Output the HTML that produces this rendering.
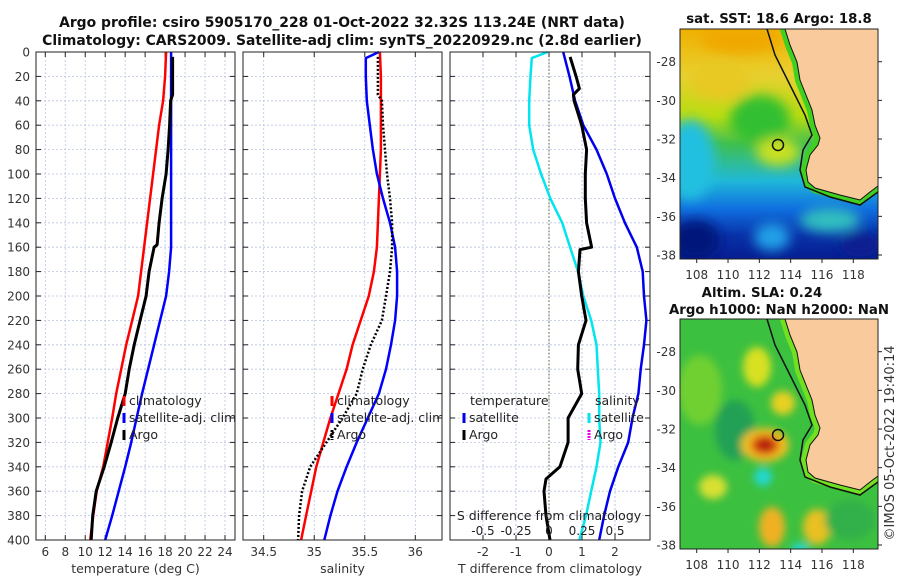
<!DOCTYPE html>
<html><head><meta charset="utf-8"><style>
html,body{margin:0;padding:0;background:#fff;}
svg{display:block;font-family:"DejaVu Sans","Liberation Sans",sans-serif;}
</style></head><body>
<svg id="fig" width="900" height="580" viewBox="0 0 900 580" xmlns="http://www.w3.org/2000/svg">
<defs>
<filter id="blur6"><feGaussianBlur stdDeviation="6"/></filter>
<filter id="blur4"><feGaussianBlur stdDeviation="4"/></filter>
<clipPath id="clipMap1"><rect x="680" y="29" width="198" height="230"/></clipPath>
<clipPath id="clipMap2"><rect x="680" y="319" width="198" height="230"/></clipPath>
<linearGradient id="sstGrad" x1="0" y1="0" x2="0" y2="1">
<stop offset="0" stop-color="#f0b000"/><stop offset="0.2" stop-color="#e8d030"/>
<stop offset="0.38" stop-color="#b8dc10"/><stop offset="0.5" stop-color="#40c050"/>
<stop offset="0.66" stop-color="#20b8d8"/><stop offset="0.78" stop-color="#1070e0"/>
<stop offset="0.9" stop-color="#0830a8"/><stop offset="1" stop-color="#061e90"/>
</linearGradient>
</defs>
<g font-weight="bold" font-size="13.9" text-anchor="middle" fill="#111">
<text x="342" y="27">Argo profile: csiro 5905170_228 01-Oct-2022 32.32S 113.24E (NRT data)</text>
<text x="342" y="45">Climatology: CARS2009. Satellite-adj clim: synTS_20220929.nc (2.8d earlier)</text>
</g>
<g id="plots"></g>
<g id="maps"></g>
</svg>
<script>
// ---------- data ----------
const depthGrid = [0,20,40,60,80,100,120,140,160,180,200,220,240,260,280,300,320,340,360,380,400];
const tempClim = [18.1,18.0,17.8,17.4,17.1,16.8,16.5,16.2,15.9,15.6,15.3,14.7,14.1,13.6,13.1,12.7,12.25,11.8,11.15,10.8,10.5];
const tempSat  = [18.6,18.6,18.6,18.6,18.6,18.6,18.6,18.6,18.6,18.4,18.1,17.5,16.9,16.3,15.7,15.15,14.6,14.0,13.35,12.7,12.0];
const argoDepth = [4,20,35,40,60,80,100,120,140,158,160,180,200,220,240,260,280,300,320,340,360,380,400];
const tempArgo = [18.75,18.75,18.75,18.55,18.45,18.3,18.1,17.7,17.4,17.2,16.9,16.4,16.1,15.5,14.9,14.4,14.0,13.25,12.6,11.9,11.1,10.75,10.6];
const salClim = [35.65,35.66,35.66,35.66,35.66,35.65,35.64,35.63,35.62,35.59,35.54,35.46,35.38,35.32,35.24,35.16,35.09,35.02,34.97,34.92,34.87];
const salSatDepth = [0,5,20,40,60,80,100,120,140,160,180,200,220,240,260,280,300,320,340,360,380,400];
const salSat = [35.64,35.51,35.51,35.52,35.55,35.58,35.62,35.68,35.75,35.80,35.82,35.82,35.80,35.76,35.71,35.64,35.53,35.42,35.32,35.23,35.16,35.10];
const salArgoDepth = [4,35,40,60,80,100,120,140,160,180,200,220,240,260,280,300,320,340,360,380,400];
const salArgo = [35.63,35.63,35.67,35.68,35.70,35.72,35.75,35.77,35.77,35.75,35.71,35.67,35.56,35.48,35.42,35.28,35.12,34.96,34.88,34.85,34.84];
const tDiffSat = [0.43,0.62,0.79,1.04,1.44,1.75,2.0,2.3,2.66,2.84,2.88,2.95,2.88,2.78,2.71,2.53,2.4,2.1,1.85,1.67,1.52];
const tDiffArgoDepth = [4,20,30,35,40,60,80,100,120,140,160,162,180,200,220,240,260,280,300,320,340,350,360,380,400];
const tDiffArgo = [0.64,0.82,0.92,0.74,0.76,0.99,1.14,1.1,1.1,1.14,1.29,0.94,0.89,0.99,1.12,0.89,0.87,0.99,0.58,0.58,0.33,-0.09,-0.15,-0.09,0.03];
const sDiffDepth = [0,5,20,40,60,80,100,120,140,160,180,200,220,240,260,280,300,320,340,360,380,400];
const sDiffSat = [-0.01,-0.13,-0.14,-0.15,-0.15,-0.12,-0.06,0.01,0.10,0.16,0.22,0.26,0.32,0.36,0.37,0.38,0.38,0.39,0.36,0.32,0.28,0.23];
const depthTicks = [0,20,40,60,80,100,120,140,160,180,200,220,240,260,280,300,320,340,360,380,400];
const tempTicks = [6,8,10,12,14,16,18,20,22,24];
const salTicks = [34.5,35,35.5,36];
const tDiffTicks = [-2,-1,0,1,2];
const sDiffTicks = [-0.5,-0.25,0,0.25,0.5];
const sDiffTickLabels = ["-0.5","-0.25","0","0.25","0.5"];
const lonTicks = [108,110,112,114,116,118];
const latTicks = [-28,-30,-32,-34,-36,-38];

// ---------- helpers ----------
const NS = "http://www.w3.org/2000/svg";
function mk(tag, attrs, parent){
  const e = document.createElementNS(NS, tag);
  for (const k in attrs) e.setAttribute(k, attrs[k]);
  parent.appendChild(e); return e;
}
const PT = 52, PB = 540;
const yD = d => PT + d * (PB - PT) / 400;
function lin(d0, d1, r0, r1){ return v => r0 + (v - d0) * (r1 - r0) / (d1 - d0); }
const panels = [
  {x0:36, x1:235, sx: lin(6,24,45.3,225), ticks: tempTicks, labels: tempTicks.map(String), xlabel:"temperature (deg C)", name:"temperature"},
  {x0:243, x1:442, sx: lin(34.5,36,263.7,415.3), ticks: salTicks, labels: salTicks.map(String), xlabel:"salinity", name:"salinity"},
  {x0:450, x1:650, sx: lin(0,1,549,582), ticks: tDiffTicks, labels: tDiffTicks.map(String), xlabel:"T difference from climatology", name:"difference"}
];
const sxS = lin(0,1,549,681);
const plots = document.getElementById('plots');
const FS = 12;

function drawLine(g, xs, ds, sx, color, w, dash, name){
  let pts = xs.map((v,i)=> sx(v).toFixed(1)+","+yD(ds[i]).toFixed(1)).join(" ");
  const p = mk('polyline', {points:pts, fill:'none', stroke:color, 'stroke-width':w, 'stroke-linejoin':'round'}, g);
  if (dash) p.setAttribute('stroke-dasharray', dash);
  
  
}

panels.forEach((P, pi) => {
  const g = mk('g', {}, plots);
  
  
  mk('rect', {x:P.x0, y:PT, width:P.x1-P.x0, height:PB-PT, fill:'#fff'}, g);
  depthTicks.forEach(d => {
    const l = mk('line', {x1:P.x0, x2:P.x1, y1:yD(d), y2:yD(d), stroke:'#b9c3e3', 'stroke-width':0.8, 'stroke-dasharray':'2,2'}, g);
    
    
  });
  P.ticks.forEach(t => {
    const l = mk('line', {x1:P.sx(t), x2:P.sx(t), y1:PT, y2:PB, stroke:'#b9c3e3', 'stroke-width':0.8, 'stroke-dasharray':'2,2'}, g);
    
    
  });
  if (pi === 2) {
    sDiffTicks.forEach(t => {
      const l = mk('line', {x1:sxS(t), x2:sxS(t), y1:PT, y2:PB, stroke:'#b9c3e3', 'stroke-width':0.8, 'stroke-dasharray':'2,2'}, g);
      
      
    });
    const z = mk('line', {x1:549, x2:549, y1:PT, y2:PB, stroke:'#556b2f', 'stroke-width':1, 'stroke-dasharray':'1.5,2'}, g);
    
    
  }
  depthTicks.forEach(d => {
    mk('line', {x1:P.x0, x2:P.x0+5, y1:yD(d), y2:yD(d), stroke:'#222', 'stroke-width':1}, g);
    mk('line', {x1:P.x1-5, x2:P.x1, y1:yD(d), y2:yD(d), stroke:'#222', 'stroke-width':1}, g);
    if (pi === 0) {
      const t = mk('text', {x:30, y:yD(d)+4.5, 'text-anchor':'end', 'font-size':FS, fill:'#333'}, g);
      t.textContent = d;
      
      
    }
  });
  P.ticks.forEach((tv, i) => {
    mk('line', {x1:P.sx(tv), x2:P.sx(tv), y1:PB-5, y2:PB, stroke:'#222', 'stroke-width':1}, g);
    mk('line', {x1:P.sx(tv), x2:P.sx(tv), y1:PT, y2:PT+5, stroke:'#222', 'stroke-width':1}, g);
    const t = mk('text', {x:P.sx(tv), y:556, 'text-anchor':'middle', 'font-size':FS, fill:'#333'}, g);
    t.textContent = P.labels[i];
    
    
  });
  const xl = mk('text', {x:(P.x0+P.x1)/2, y:573, 'text-anchor':'middle', 'font-size':12.5, fill:'#333'}, g);
  xl.textContent = P.xlabel;
  
  
  P.g = g;
});

drawLine(panels[0].g, tempClim, depthGrid, panels[0].sx, '#ff0000', 2.5, null, 'temperature-climatology-line');
drawLine(panels[0].g, tempSat, depthGrid, panels[0].sx, '#0000ff', 2.5, null, 'temperature-satellite-line');
drawLine(panels[0].g, tempArgo, argoDepth, panels[0].sx, '#000000', 3, null, 'temperature-argo-line');
drawLine(panels[1].g, salClim, depthGrid, panels[1].sx, '#ff0000', 2.5, null, 'salinity-climatology-line');
drawLine(panels[1].g, salSat, salSatDepth, panels[1].sx, '#0000ff', 2.5, null, 'salinity-satellite-line');
drawLine(panels[1].g, salArgo, salArgoDepth, panels[1].sx, '#000000', 2.5, '2,2', 'salinity-argo-line');
drawLine(panels[2].g, sDiffSat, sDiffDepth, sxS, '#00e5ee', 2.5, null, 'salinity-diff-satellite-line');
drawLine(panels[2].g, tDiffSat, depthGrid, panels[2].sx, '#0000ee', 2.5, null, 'temperature-diff-satellite-line');
drawLine(panels[2].g, tDiffArgo, tDiffArgoDepth, panels[2].sx, '#000000', 3, null, 'temperature-diff-argo-line');

(function(){
  const g = panels[2].g;
  const t = mk('text', {x:549, y:520, 'text-anchor':'middle', 'font-size':FS+0.5, fill:'#222'}, g);
  t.textContent = 'S difference from climatology';
  
  
  sDiffTicks.forEach((v,i) => {
    const l = mk('text', {x:sxS(v), y:535, 'text-anchor':'middle', 'font-size':FS, fill:'#222'}, g);
    l.textContent = sDiffTickLabels[i];
    
    
  });
})();

function legendEntry(g, x, y, color, label, dash){
  const e = mk('g', {}, g);
  
  
  const m = mk('line', {x1:x, x2:x, y1:y-9, y2:y+1, stroke:color, 'stroke-width':3}, e);
  if (dash) m.setAttribute('stroke-dasharray', dash);
  const t = mk('text', {x:x+5, y:y, 'font-size':FS+0.5, fill:'#222'}, e);
  t.textContent = label;
}
(function(){
  const g0 = mk('g', {}, plots);
  
  
  legendEntry(g0, 124, 405, '#ff0000', 'climatology');
  legendEntry(g0, 124, 422, '#0000ff', 'satellite-adj. clim');
  legendEntry(g0, 124, 439, '#000', 'Argo');
  const cp = mk('clipPath', {id:'clipP2'}, plots); mk('rect', {x:243, y:52, width:199, height:488}, cp);
  const g1 = mk('g', {'clip-path':'url(#clipP2)'}, plots);
  
  
  legendEntry(g1, 332, 405, '#ff0000', 'climatology');
  legendEntry(g1, 332, 422, '#0000ff', 'satellite-adj. clim');
  legendEntry(g1, 332, 439, '#000', 'Argo', '2,1');
  const g2 = mk('g', {}, plots);
  
  
  const h1 = mk('text', {x:470, y:405, 'font-size':FS+0.5, fill:'#222'}, g2); h1.textContent = 'temperature';
  legendEntry(g2, 464, 422, '#0000ee', 'satellite');
  legendEntry(g2, 464, 439, '#000', 'Argo');
  const h2 = mk('text', {x:595, y:405, 'font-size':FS+0.5, fill:'#222'}, g2); h2.textContent = 'salinity';
  legendEntry(g2, 589, 422, '#00e5ee', 'satellite');
  legendEntry(g2, 589, 439, '#ee00ee', 'Argo', '2,1');
})();
panels.forEach(P => {
  const r = mk('rect', {x:P.x0, y:PT, width:P.x1-P.x0, height:PB-PT, fill:'none', stroke:'#222', 'stroke-width':1}, plots);
  
  
});

// ---------- maps ----------
const maps = document.getElementById('maps');
const coast = [[785,29],[790,45],[797,62],[800,80],[806,95],[812,110],[815,125],[820,138],[818,145],[810,155],[806,170],[808,182],[815,188],[840,195],[860,200],[870,192],[878,186],[878,29]];
const shelf = [[767,29],[775,55],[790,85],[805,115],[812,135],[803,150],[800,170],[805,187],[830,197],[860,205],[878,192]];
function shift(arr, dy){ return arr.map(p => p[0]+","+(p[1]+dy)).join(" "); }
function drawMap(dy, kind){
  const g = mk('g', {}, maps);
  
  
  const c = mk('g', {'clip-path': dy ? 'url(#clipMap2)' : 'url(#clipMap1)'}, g);
  if (kind === 'sst') {
    mk('rect', {x:680, y:29, width:198, height:230, fill:'url(#sstGrad)'}, c);
    const b = mk('g', {filter:'url(#blur6)'}, c);
    mk('ellipse', {cx:690, cy:160, rx:25, ry:40, fill:'#20c0e0'}, b);
    mk('ellipse', {cx:760, cy:120, rx:30, ry:25, fill:'#30c030'}, b);
    mk('ellipse', {cx:778, cy:152, rx:22, ry:14, fill:'#c8e020'}, b);
    mk('ellipse', {cx:720, cy:80, rx:30, ry:20, fill:'#e8c820'}, b);
    mk('ellipse', {cx:740, cy:40, rx:40, ry:14, fill:'#f0a800'}, b);
    mk('ellipse', {cx:695, cy:240, rx:25, ry:20, fill:'#06147a'}, b);
    mk('ellipse', {cx:772, cy:237, rx:18, ry:14, fill:'#20a0e8'}, b);
    mk('ellipse', {cx:830, cy:220, rx:30, ry:12, fill:'#30c0c0'}, b);
    mk('ellipse', {cx:860, cy:245, rx:20, ry:12, fill:'#0a1e90'}, b);
  } else {
    mk('rect', {x:680, y:319, width:198, height:230, fill:'#3cc040'}, c);
    const b = mk('g', {filter:'url(#blur4)'}, c);
    mk('ellipse', {cx:700, cy:390, rx:22, ry:35, fill:'#70d030'}, b);
    mk('ellipse', {cx:735, cy:430, rx:20, ry:30, fill:'#22a055'}, b);
    mk('ellipse', {cx:757, cy:367, rx:14, ry:20, fill:'#d8e020'}, b);
    mk('ellipse', {cx:783, cy:403, rx:12, ry:12, fill:'#e8d020'}, b);
    mk('ellipse', {cx:765, cy:445, rx:24, ry:17, fill:'#f0c020'}, b);
    mk('ellipse', {cx:765, cy:445, rx:14, ry:10, fill:'#d84010'}, b);
    mk('ellipse', {cx:765, cy:445, rx:6, ry:5, fill:'#a01010'}, b);
    mk('ellipse', {cx:763, cy:477, rx:9, ry:9, fill:'#20d8d0'}, b);
    mk('ellipse', {cx:713, cy:487, rx:14, ry:12, fill:'#d8e030'}, b);
    mk('ellipse', {cx:772, cy:527, rx:13, ry:20, fill:'#f0b020'}, b);
    mk('ellipse', {cx:817, cy:527, rx:14, ry:18, fill:'#e8c020'}, b);
    mk('ellipse', {cx:800, cy:549, rx:9, ry:6, fill:'#20d8d0'}, b);
    mk('ellipse', {cx:850, cy:520, rx:25, ry:20, fill:'#30b048'}, b);
  }
  mk('polygon', {points:shift(coast,dy), fill:'none', stroke: kind==='sst' ? '#40d020' : '#70e020', 'stroke-width':10, 'stroke-linejoin':'round'}, c);
  const land = mk('polygon', {points:shift(coast,dy), fill:'#f9cb9c', stroke:'#111', 'stroke-width':1}, c);
  
  
  mk('polyline', {points:shift(shelf,dy), fill:'none', stroke:'#111', 'stroke-width':1.5}, c);
  const m = mk('circle', {cx:778, cy:145+dy, r:5.5, fill:'none', stroke:'#111', 'stroke-width':1.5}, g);
  
  
  mk('rect', {x:680, y:29+dy, width:198, height:230, fill:'none', stroke:'#222', 'stroke-width':1}, g);
  const sx = lin(108,118,696.7,853.3), sy = v => 61.7 + dy + (-28 - v) * 19.33;
  lonTicks.forEach(v => {
    mk('line', {x1:sx(v), x2:sx(v), y1:259+dy, y2:263+dy, stroke:'#222'}, g);
    const t = mk('text', {x:sx(v), y:279+dy, 'text-anchor':'middle', 'font-size':FS, fill:'#333'}, g);
    t.textContent = v;
    
    
  });
  latTicks.forEach(v => {
    mk('line', {x1:878, x2:882, y1:sy(v), y2:sy(v), stroke:'#222'}, g);
    const t = mk('text', {x:676, y:sy(v)+4.5, 'text-anchor':'end', 'font-size':FS, fill:'#333'}, g);
    t.textContent = v;
    
    
  });
}
drawMap(0, 'sst');
drawMap(290, 'sla');
(function(){
  const g = mk('g', {'font-weight':'bold', 'font-size':13.3, 'text-anchor':'middle', fill:'#111'}, maps);
  
  
  const a = mk('text', {x:779, y:23}, g); a.textContent = 'sat. SST: 18.6 Argo: 18.8';
  const b = mk('text', {x:762, y:297}, g); b.textContent = 'Altim. SLA: 0.24';
  const c = mk('text', {x:779, y:314}, g); c.textContent = 'Argo h1000: NaN h2000: NaN';
  const cr = mk('text', {x:0, y:0, 'font-size':13, fill:'#333', 'text-anchor':'middle', transform:'translate(894,443) rotate(-90)'}, maps);
  cr.textContent = '©IMOS 05-Oct-2022 19:40:14';
  
  
})();
</script>
</body></html>
